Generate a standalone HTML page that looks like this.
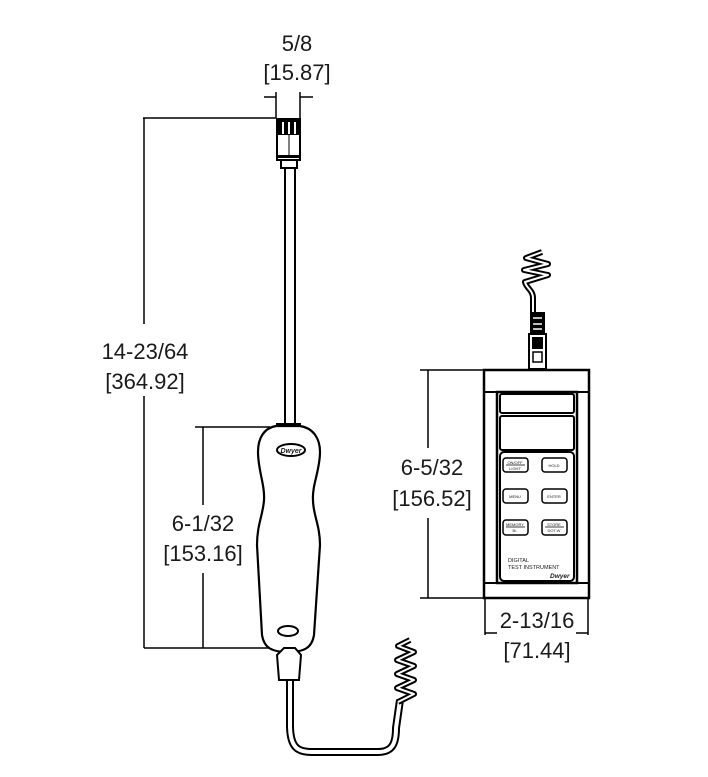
<!DOCTYPE html>
<html><head><meta charset="utf-8"><style>
html,body{margin:0;padding:0;background:#fff}
svg{display:block}
text{font-family:"Liberation Sans",Arial,sans-serif;fill:#1a1a1a}
</style></head><body>
<svg width="708" height="777" viewBox="0 0 708 777" xmlns="http://www.w3.org/2000/svg">
<text x="297" y="51" font-size="22" text-anchor="middle">5/8</text>
<text x="297" y="80" font-size="22" text-anchor="middle">[15.87]</text>
<g stroke="#000" stroke-width="1.5" fill="none">
<line x1="264" y1="97" x2="276" y2="97"/><line x1="300" y1="97" x2="313" y2="97"/>
<line x1="276" y1="92" x2="276" y2="118"/><line x1="300" y1="92" x2="300" y2="118"/>
<line x1="143" y1="118" x2="276" y2="118"/>
<line x1="144" y1="118" x2="144" y2="324"/><line x1="144" y1="396" x2="144" y2="648"/>
<line x1="144" y1="648" x2="276" y2="648"/>
<line x1="195" y1="427" x2="270" y2="427"/>
<line x1="203" y1="427" x2="203" y2="505"/><line x1="203" y1="573" x2="203" y2="648"/>
</g>
<text x="145" y="359" font-size="22" text-anchor="middle">14-23/64</text>
<text x="145" y="389" font-size="22" text-anchor="middle">[364.92]</text>
<text x="203" y="531" font-size="22" text-anchor="middle">6-1/32</text>
<text x="203" y="561" font-size="22" text-anchor="middle">[153.16]</text>
<g stroke="#000" stroke-width="2" fill="#fff">
<rect x="277" y="119" width="23" height="41"/>
<rect x="281" y="160" width="16" height="8"/>
<line x1="285" y1="168" x2="285" y2="425"/><line x1="295" y1="168" x2="295" y2="425"/>
</g>
<rect x="278" y="120" width="21" height="15" fill="#000"/>
<g stroke="#fff" stroke-width="2"><line x1="283" y1="122" x2="283" y2="134"/><line x1="289" y1="122" x2="289" y2="134"/><line x1="295" y1="122" x2="295" y2="134"/></g>
<line x1="289" y1="135" x2="289" y2="155" stroke="#000" stroke-width="1"/>
<rect x="277" y="155" width="23" height="3" fill="#000"/>
<path d="M276,426 C264,428 258,438 258,452 C258,470 265,485 264,500 C263,515 257,525 257,545 L262,635 C264,648 272,652 288,652 C304,652 312,648 314,635 L320,545 C320,525 313,515 313,500 C312,485 320,470 320,452 C320,438 313,428 300,426 Z" fill="#fff" stroke="#000" stroke-width="2.2"/>
<rect x="276" y="423" width="25" height="4" fill="#000"/>
<ellipse cx="291" cy="450" rx="14" ry="6" fill="none" stroke="#000" stroke-width="2"/>
<text x="291" y="453" font-size="7" font-style="italic" font-weight="bold" text-anchor="middle" font-family="Liberation Serif">Dwyer</text>
<ellipse cx="288" cy="631" rx="10" ry="5" fill="none" stroke="#000" stroke-width="2"/>
<path d="M290,725 C290,748 298,752 312,752 L378,752 C392,752 396,744 396,728 L400,700" fill="none" stroke="#000" stroke-width="8"/>
<path d="M290,725 C290,748 298,752 312,752 L378,752 C392,752 396,744 396,728 L400,700" fill="none" stroke="#fff" stroke-width="4"/>
<line x1="290" y1="676" x2="290" y2="728" stroke="#000" stroke-width="8"/>
<line x1="290" y1="676" x2="290" y2="728" stroke="#fff" stroke-width="4"/>
<path d="M277,655 L284,648 L295,648 L301,655 L299,680 L279,680 Z" fill="#fff" stroke="#000" stroke-width="2"/>
<path d="M398,702 L414,694 L397,688 L414,680 L397,674 L414,666 L397,660 L414,652 L398,646 L410,640" fill="none" stroke="#000" stroke-width="6" stroke-linejoin="round"/>
<path d="M398,702 L414,694 L397,688 L414,680 L397,674 L414,666 L397,660 L414,652 L398,646 L410,640" fill="none" stroke="#fff" stroke-width="2" stroke-linejoin="round"/>
<path d="M533,312 L533,298 C533,290 526,288 525,282 L548,275 L524,270 L548,264 L526,258 L542,252" fill="none" stroke="#000" stroke-width="6" stroke-linejoin="round"/>
<path d="M533,312 L533,298 C533,290 526,288 525,282 L548,275 L524,270 L548,264 L526,258 L542,252" fill="none" stroke="#fff" stroke-width="2" stroke-linejoin="round"/>
<rect x="530" y="312" width="15" height="22" fill="#000"/>
<g stroke="#fff" stroke-width="1.5"><line x1="533" y1="318" x2="542" y2="318"/><line x1="533" y1="324" x2="542" y2="324"/><line x1="533" y1="329" x2="542" y2="329"/></g>
<rect x="529" y="334" width="17" height="35" fill="#fff" stroke="#000" stroke-width="2"/>
<rect x="532" y="337" width="11" height="12" fill="#000"/>
<rect x="533" y="352" width="9" height="10" fill="#fff" stroke="#000" stroke-width="1.5"/>
<g stroke="#000" fill="none">
<rect x="484" y="370" width="105" height="228" stroke-width="2.5"/>
<line x1="484" y1="392" x2="589" y2="392" stroke-width="2"/>
<line x1="484" y1="583" x2="589" y2="583" stroke-width="2"/>
<rect x="497" y="392" width="80" height="191" stroke-width="2.5"/>
<rect x="500" y="394" width="74" height="19" rx="2" stroke-width="2"/>
<rect x="500" y="416" width="74" height="34" rx="2" stroke-width="2"/>
<rect x="500" y="452" width="74" height="129" rx="4" stroke-width="2"/>
<rect x="503" y="458" width="25" height="14" rx="3" stroke-width="1.5"/>
<rect x="542" y="458" width="25" height="14" rx="3" stroke-width="1.5"/>
<rect x="503" y="489" width="25" height="14" rx="3" stroke-width="1.5"/>
<rect x="542" y="489" width="25" height="14" rx="3" stroke-width="1.5"/>
<rect x="503" y="520" width="25" height="15" rx="3" stroke-width="1.5"/>
<rect x="542" y="520" width="25" height="15" rx="3" stroke-width="1.5"/>
<line x1="506" y1="465" x2="525" y2="465" stroke-width="0.8"/>
<line x1="506" y1="527" x2="525" y2="527" stroke-width="0.8"/>
<line x1="545" y1="527" x2="564" y2="527" stroke-width="0.8"/>
</g>
<g font-size="4" text-anchor="middle">
<text x="515" y="464">ON/OFF</text><text x="515" y="470">LIGHT</text>
<text x="554" y="467">HOLD</text><text x="515" y="498">MENU</text><text x="554" y="498">ENTER</text>
<text x="515" y="526">MEMORY</text><text x="515" y="532">B/-</text>
<text x="554" y="526">STORE</text><text x="554" y="532">DOT.W</text>
</g>
<text x="508" y="562" font-size="5.5">DIGITAL</text>
<text x="508" y="569" font-size="5.5">TEST INSTRUMENT</text>
<text x="550" y="578" font-size="6.5" font-style="italic" font-weight="bold" font-family="Liberation Serif">Dwyer</text>
<g stroke="#000" stroke-width="1.5">
<line x1="420" y1="370" x2="484" y2="370"/><line x1="420" y1="598" x2="484" y2="598"/>
<line x1="428" y1="370" x2="428" y2="448"/><line x1="428" y1="518" x2="428" y2="598"/>
<line x1="485" y1="598" x2="485" y2="635"/><line x1="588" y1="598" x2="588" y2="635"/>
<line x1="485" y1="633" x2="497" y2="633"/><line x1="576" y1="633" x2="588" y2="633"/>
</g>
<text x="432" y="475" font-size="22" text-anchor="middle">6-5/32</text>
<text x="432" y="506" font-size="22" text-anchor="middle">[156.52]</text>
<text x="537" y="628" font-size="22" text-anchor="middle">2-13/16</text>
<text x="537" y="658" font-size="22" text-anchor="middle">[71.44]</text>
</svg>
</body></html>
